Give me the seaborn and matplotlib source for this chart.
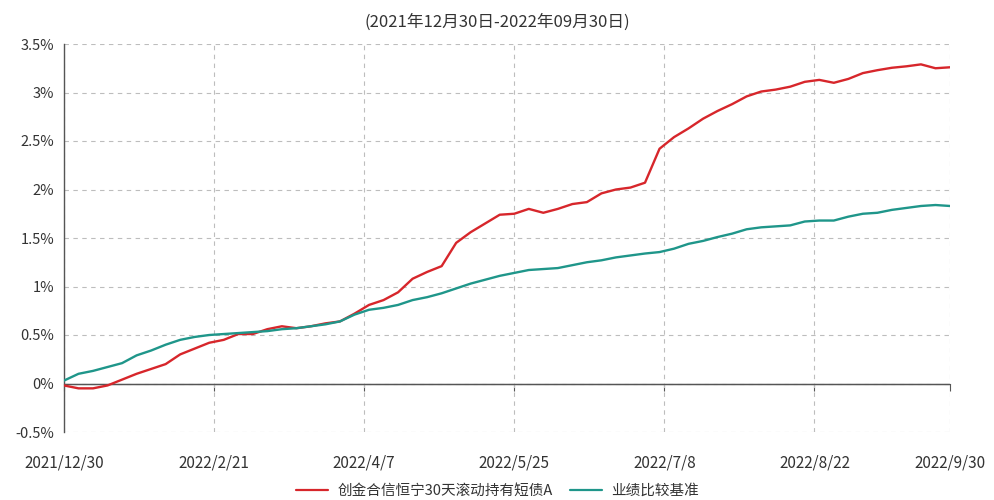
import numpy as np
import pandas as pd
import matplotlib
matplotlib.use('Agg')
import matplotlib.pyplot as plt
import seaborn as sns

# --- data (cumulative return, %), one point every 3 trading days ---
fund_name = '创金合信恒宁30天滚动持有短债A'
bench_name = '业绩比较基准'

fund_ret = [-0.02, -0.05, -0.05, -0.02, 0.04, 0.10, 0.15, 0.20, 0.30, 0.36,
            0.42, 0.45, 0.51, 0.51, 0.56, 0.59, 0.57, 0.59, 0.62, 0.64,
            0.72, 0.81, 0.86, 0.94, 1.08, 1.15, 1.21, 1.45, 1.56, 1.65,
            1.74, 1.75, 1.80, 1.76, 1.80, 1.85, 1.87, 1.96, 2.00, 2.02,
            2.07, 2.42, 2.54, 2.63, 2.73, 2.81, 2.88, 2.96, 3.01, 3.03,
            3.06, 3.11, 3.13, 3.10, 3.14, 3.20, 3.23, 3.255, 3.27, 3.29,
            3.25, 3.26]

bench_ret = [0.03, 0.10, 0.13, 0.17, 0.21, 0.29, 0.34, 0.40, 0.45, 0.48,
             0.50, 0.51, 0.52, 0.53, 0.54, 0.56, 0.57, 0.59, 0.61, 0.64,
             0.71, 0.76, 0.78, 0.81, 0.86, 0.89, 0.93, 0.98, 1.03, 1.07,
             1.11, 1.14, 1.17, 1.18, 1.19, 1.22, 1.25, 1.27, 1.30, 1.32,
             1.34, 1.355, 1.39, 1.44, 1.47, 1.51, 1.545, 1.59, 1.61, 1.62,
             1.63, 1.67, 1.68, 1.68, 1.72, 1.75, 1.76, 1.79, 1.81, 1.83,
             1.84, 1.83]

# trading-day index of each point
day_idx = np.arange(0, 3 * len(fund_ret), 3)

tick_days = [0, 31, 62, 93, 124, 155, 183]
tick_labels = ['2021/12/30', '2022/2/21', '2022/4/7', '2022/5/25',
               '2022/7/8', '2022/8/22', '2022/9/30']
y_ticks = [-0.5, 0, 0.5, 1, 1.5, 2, 2.5, 3, 3.5]

df = pd.DataFrame({
    'day': np.concatenate([day_idx, day_idx]),
    'ret': fund_ret + bench_ret,
    'series': [fund_name] * len(fund_ret) + [bench_name] * len(bench_ret),
})

# --- style ---
sns.set_style('white')
plt.rcParams['font.family'] = ['Noto Sans CJK SC', 'DejaVu Sans']
plt.rcParams['axes.unicode_minus'] = False

fig = plt.figure(figsize=(9.95, 5), dpi=100)
ax = fig.add_axes([0.0643, 0.136, 0.8905, 0.776])

sns.lineplot(data=df, x='day', y='ret', hue='series',
             palette={fund_name: '#d7262b', bench_name: '#1f968a'},
             linewidth=1.7, ax=ax, legend=False, zorder=3)

ax.set_xlim(0, 183)
ax.set_ylim(-0.5, 3.5)
ax.set_xticks(tick_days)
ax.set_xticklabels(tick_labels)
ax.set_yticks(y_ticks)
ax.set_yticklabels([('%g' % v) + '%' for v in y_ticks])
ax.set_xlabel('')
ax.set_ylabel('')

ax.grid(True, linestyle=(0, (4, 4)), color='#bdbdbd', linewidth=0.8)
ax.set_axisbelow(True)
for s in ['top', 'right', 'bottom']:
    ax.spines[s].set_visible(False)
ax.spines['left'].set_color('#555555')
ax.spines['left'].set_linewidth(1)

ax.tick_params(axis='y', length=5, color='#555555', labelsize=10.5,
               labelcolor='#333333', pad=2)
ax.tick_params(axis='x', length=0, labelsize=11, labelcolor='#333333', pad=16)

# solid zero line with its tick marks
ax.axhline(0, color='#555555', linewidth=1, zorder=2)
zero_ax = ax.secondary_xaxis(0.125)
zero_ax.set_xticks(tick_days)
zero_ax.set_xticklabels([])
zero_ax.spines['bottom'].set_color('#555555')
zero_ax.tick_params(axis='x', length=5, color='#555555')

fig.text(0.5, 0.955, '(2021年12月30日-2022年09月30日)', ha='center', va='center',
         fontsize=12, color='#333333')

handles = [plt.Line2D([], [], color='#d7262b', lw=1.6),
           plt.Line2D([], [], color='#1f968a', lw=1.6)]
fig.legend(handles, [fund_name, bench_name], loc='center', ncol=2,
           bbox_to_anchor=(0.5, 0.018), frameon=False, fontsize=10.5,
           handlelength=2.2, columnspacing=1.2, handletextpad=0.6,
           labelcolor='#333333')

fig.savefig('out.png', dpi=100)
